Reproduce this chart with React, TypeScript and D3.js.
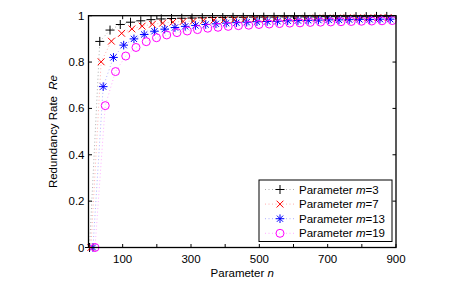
import * as d3 from 'd3';

const W = 463;
const H = 284;
const M = { left: 88.5, right: 67, top: 15.7, bottom: 36.5 };

// n values and redundancy rate per series
const nM3 = [3, 33, 63, 93, 123, 153, 183, 213, 243, 273, 303, 333, 363, 393, 423, 453, 483, 513, 543, 573, 603, 633, 663, 693, 723, 753, 783, 813, 843, 873];
const reM3 = [0, 0.889, 0.938, 0.962, 0.972, 0.978, 0.983, 0.986, 0.988, 0.989, 0.99, 0.991, 0.992, 0.992, 0.993, 0.993, 0.994, 0.994, 0.994, 0.995, 0.995, 0.995, 0.995, 0.996, 0.996, 0.996, 0.996, 0.996, 0.997, 0.997];

const nM7 = [7, 37, 67, 97, 127, 157, 187, 217, 247, 277, 307, 337, 367, 397, 427, 457, 487, 517, 547, 577, 607, 637, 667, 697, 727, 757, 787, 817, 847, 877];
const reM7 = [0, 0.801, 0.89, 0.924, 0.943, 0.955, 0.963, 0.968, 0.972, 0.975, 0.977, 0.979, 0.981, 0.982, 0.984, 0.985, 0.986, 0.986, 0.987, 0.988, 0.988, 0.989, 0.99, 0.99, 0.99, 0.991, 0.991, 0.991, 0.992, 0.992];

const nM13 = [13, 43, 73, 103, 133, 163, 193, 223, 253, 283, 313, 343, 373, 403, 433, 463, 493, 523, 553, 583, 613, 643, 673, 703, 733, 763, 793, 823, 853, 883];
const reM13 = [0, 0.694, 0.82, 0.873, 0.9, 0.919, 0.933, 0.942, 0.949, 0.954, 0.958, 0.962, 0.965, 0.968, 0.97, 0.972, 0.974, 0.975, 0.976, 0.978, 0.979, 0.98, 0.981, 0.982, 0.982, 0.983, 0.984, 0.984, 0.985, 0.985];

const nM19 = [19, 49, 79, 109, 139, 169, 199, 229, 259, 289, 319, 349, 379, 409, 439, 469, 499, 529, 559, 589, 619, 649, 679, 709, 739, 769, 799, 829, 859, 889];
const reM19 = [0, 0.612, 0.759, 0.826, 0.863, 0.888, 0.905, 0.917, 0.927, 0.934, 0.94, 0.946, 0.95, 0.954, 0.957, 0.959, 0.962, 0.964, 0.966, 0.968, 0.969, 0.971, 0.972, 0.973, 0.974, 0.975, 0.976, 0.977, 0.978, 0.979];

const seriesNames = ['3', '7', '13', '19'];
const seriesColors = ['#000000', '#ff0000', '#0000ff', '#ff00ff'];
const seriesMarkers = ['plus', 'cross', 'star', 'circle'];

const xTicks = [0, 100, 200, 300, 400, 500, 600, 700, 800, 900];
const xLabels = [100, 300, 500, 700, 900];
const yTicks = [0, 0.2, 0.4, 0.6, 0.8, 1];

const FONT = 'Arial, "Liberation Sans", sans-serif';

function Marker({ kind, x, y, color }: { kind: string; x: number; y: number; color: string }) {
  const sw = 1;
  if (kind === 'plus') {
    const s = 4.5;
    return (
      <path d={`M${x - s},${y}H${x + s}M${x},${y - s}V${y + s}`} stroke={color} strokeWidth={sw} fill="none" />
    );
  }
  if (kind === 'cross') {
    const s = 3.4;
    return (
      <path d={`M${x - s},${y - s}L${x + s},${y + s}M${x - s},${y + s}L${x + s},${y - s}`} stroke={color} strokeWidth={sw} fill="none" />
    );
  }
  if (kind === 'star') {
    const s = 4.3;
    const c = 3.1;
    return (
      <path
        d={`M${x - s},${y}H${x + s}M${x},${y - s}V${y + s}M${x - c},${y - c}L${x + c},${y + c}M${x - c},${y + c}L${x + c},${y - c}`}
        stroke={color}
        strokeWidth={sw}
        fill="none"
      />
    );
  }
  return <circle cx={x} cy={y} r={4} stroke={color} strokeWidth={sw} fill="none" />;
}

export default function App() {
  const x = d3.scaleLinear().domain([0, 900]).range([M.left, W - M.right]);
  const y = d3.scaleLinear().domain([0, 1]).range([H - M.bottom, M.top]);

  const series = [
    { n: nM3, re: reM3 },
    { n: nM7, re: reM7 },
    { n: nM13, re: reM13 },
    { n: nM19, re: reM19 },
  ];

  const line = d3
    .line<[number, number]>()
    .x((d) => x(d[0]))
    .y((d) => y(d[1]));

  const x0 = x(0);
  const x1 = x(900);
  const y0 = y(0);
  const y1 = y(1);
  const tick = 3.5;

  const legX = 259;
  const legY = 180;
  const legW = 133;
  const legH = 61.5;
  const rowH = 14.6;

  return (
    <svg
      width={W}
      height={H}
      style={{ position: 'absolute', left: 0, top: 0, background: '#fff' }}
      fontFamily={FONT}
    >
      {/* series lines */}
      {series.map((s, i) => (
        <path
          key={`l${i}`}
          d={line(s.n.map((n, j) => [n, s.re[j]] as [number, number])) ?? ''}
          fill="none"
          stroke={seriesColors[i]}
          strokeWidth={0.7}
          strokeDasharray="1,2.5"
          opacity={0.45}
        />
      ))}
      {/* markers */}
      {series.map((s, i) => (
        <g key={`m${i}`}>
          {s.n.map((n, j) => (
            <Marker key={j} kind={seriesMarkers[i]} x={x(n)} y={y(s.re[j])} color={seriesColors[i]} />
          ))}
        </g>
      ))}

      {/* box */}
      <rect x={x0} y={y1} width={x1 - x0} height={y0 - y1} fill="none" stroke="#000" strokeWidth={1.3} />

      {/* x ticks */}
      {xTicks.map((t) => (
        <g key={`xt${t}`}>
          <line x1={x(t)} x2={x(t)} y1={y0} y2={y0 - tick} stroke="#000" strokeWidth={1} />
          <line x1={x(t)} x2={x(t)} y1={y1} y2={y1 + tick} stroke="#000" strokeWidth={1} />
        </g>
      ))}
      {xLabels.map((t) => (
        <text key={`xl${t}`} x={x(t)} y={y0 + 15} textAnchor="middle" fontSize={11.5} fill="#000">
          {t}
        </text>
      ))}

      {/* y ticks */}
      {yTicks.map((t) => (
        <g key={`yt${t}`}>
          <line x1={x0} x2={x0 + tick} y1={y(t)} y2={y(t)} stroke="#000" strokeWidth={1} />
          <line x1={x1} x2={x1 - tick} y1={y(t)} y2={y(t)} stroke="#000" strokeWidth={1} />
          <text x={x0 - 4} y={y(t) + 4} textAnchor="end" fontSize={11.5} fill="#000">
            {d3.format('~g')(t)}
          </text>
        </g>
      ))}

      {/* axis titles */}
      <text x={(x0 + x1) / 2} y={H - 7} textAnchor="middle" fontSize={11.5} fill="#000">
        Parameter <tspan fontStyle="italic">n</tspan>
      </text>
      <text
        transform={`translate(57,${(y0 + y1) / 2}) rotate(-90)`}
        textAnchor="middle"
        fontSize={11.5}
        fill="#000"
      >
        Redundancy Rate <tspan fontStyle="italic" dx={3}>Re</tspan>
      </text>

      {/* legend */}
      <rect x={legX} y={legY} width={legW} height={legH} fill="#fff" stroke="#000" strokeWidth={1} />
      {seriesNames.map((m, i) => {
        const ry = legY + 9.5 + i * rowH;
        return (
          <g key={`lg${i}`}>
            <line x1={legX + 6} x2={legX + 36} y1={ry} y2={ry} stroke={seriesColors[i]} strokeWidth={0.7} strokeDasharray="1,2.5" opacity={0.45} />
            <Marker kind={seriesMarkers[i]} x={legX + 21} y={ry} color={seriesColors[i]} />
            <text x={legX + 40} y={ry + 4} fontSize={11.5} fill="#000">
              Parameter <tspan fontStyle="italic">m</tspan>={m}
            </text>
          </g>
        );
      })}
    </svg>
  );
}
